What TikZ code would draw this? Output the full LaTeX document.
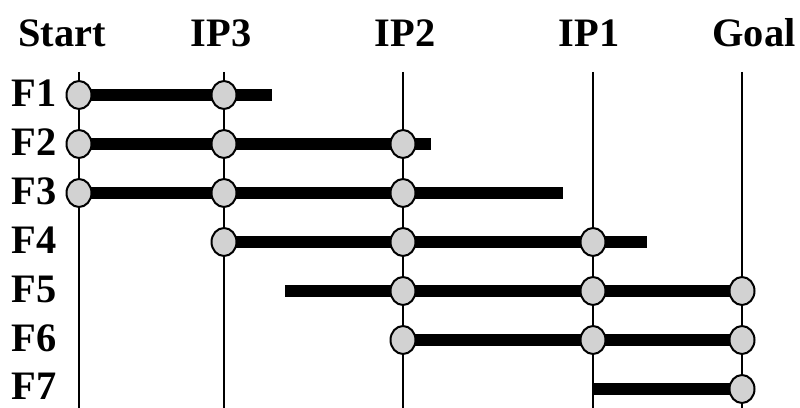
\documentclass[tikz,border=0pt]{standalone}
\usepackage{fontspec}
\setmainfont{Liberation Serif}
\usetikzlibrary{shapes.geometric,backgrounds}

\tikzset{
  head/.style={font=\bfseries\fontsize{23}{23}\selectfont, inner sep=0pt},
  rowlabel/.style={font=\bfseries\fontsize{23}{23}\selectfont, inner sep=0pt},
  dot/.style={ellipse, draw=black, line width=0.04cm, fill=gray!35,
    minimum width=0.5cm, minimum height=0.56cm, inner sep=0pt},
  rail/.style={line width=0.04cm},
  bar/.style={line width=0.24cm}
}

\begin{document}
\begin{tikzpicture}[x=0.02cm, y=-0.02cm]

\useasboundingbox (0,0) rectangle (800,408);

\node [head] (hs) at (62,33) {Start};
\node [head] (hc) at (221,33) {IP3};
\node [head] (hb) at (405,33) {IP2};
\node [head] (ha) at (589,33) {IP1};
\node [head] (hg) at (754,33) {Goal};

\node [rowlabel] (f1) at (34,93) {F1};
\node [rowlabel] (f2) at (34,142) {F2};
\node [rowlabel] (f3) at (34,191) {F3};
\node [rowlabel] (f4) at (34,240) {F4};
\node [rowlabel] (f5) at (34,289) {F5};
\node [rowlabel] (f6) at (34,338) {F6};
\node [rowlabel] (f7) at (34,386) {F7};

% points on the tracks
\node [dot] (s1) at (79,95) {};
\node [dot] (c1) at (224,95) {};
\node [dot] (s2) at (79,144) {};
\node [dot] (c2) at (224,144) {};
\node [dot] (b2) at (403,144) {};
\node [dot] (s3) at (79,193) {};
\node [dot] (c3) at (224,193) {};
\node [dot] (b3) at (403,193) {};
\node [dot] (c4) at (224,242) {};
\node [dot] (b4) at (403,242) {};
\node [dot] (a4) at (593,242) {};
\node [dot] (b5) at (403,291) {};
\node [dot] (a5) at (593,291) {};
\node [dot] (g5) at (742,291) {};
\node [dot] (b6) at (403,340) {};
\node [dot] (a6) at (593,340) {};
\node [dot] (g6) at (742,340) {};
\node [dot] (g7) at (742,389) {};

\coordinate (st) at (79,72);
\coordinate (sb) at (79,408);
\coordinate (ct) at (224,72);
\coordinate (cb) at (224,408);
\coordinate (bt) at (403,72);
\coordinate (bb) at (403,408);
\coordinate (at) at (593,72);
\coordinate (ab) at (593,408);
\coordinate (gt) at (742,72);
\coordinate (gb) at (742,408);

\coordinate (e1) at (272,95);
\coordinate (e2) at (431,144);
\coordinate (e3) at (563,193);
\coordinate (e4) at (647,242);
\coordinate (e5) at (285,291);
\coordinate (e7) at (593,389);

\begin{pgfonlayer}{background}
\draw [rail] (st) -- (sb);
\draw [rail] (ct) -- (cb);
\draw [rail] (bt) -- (bb);
\draw [rail] (at) -- (ab);
\draw [rail] (gt) -- (gb);

\draw [bar] (s1.center) -- (c1.center) -- (e1);
\draw [bar] (s2.center) -- (c2.center) -- (b2.center) -- (e2);
\draw [bar] (s3.center) -- (c3.center) -- (b3.center) -- (e3);
\draw [bar] (c4.center) -- (b4.center) -- (a4.center) -- (e4);
\draw [bar] (e5) -- (b5.center) -- (a5.center) -- (g5.center);
\draw [bar] (b6.center) -- (a6.center) -- (g6.center);
\draw [bar] (e7) -- (g7.center);
\end{pgfonlayer}

\end{tikzpicture}
\end{document}
